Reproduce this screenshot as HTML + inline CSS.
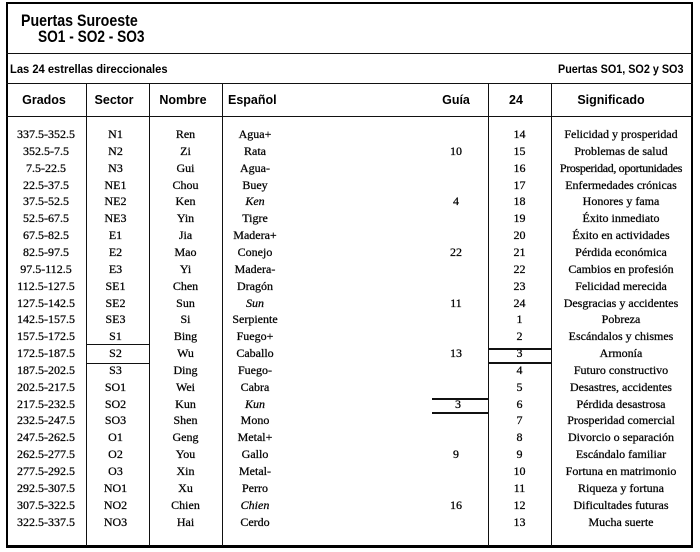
<!DOCTYPE html>
<html>
<head>
<meta charset="utf-8">
<style>
html,body{margin:0;padding:0;background:#fff;}
body{width:700px;height:552px;position:relative;overflow:hidden;}
.box{position:absolute;left:6px;top:2px;width:683px;height:541px;border:2px solid #000;border-bottom-width:3px;}
.h{position:absolute;background:#111;height:1.5px;}
.v{position:absolute;background:#111;width:1.5px;top:83px;height:463px;}
.t{position:absolute;font-family:"Liberation Sans",sans-serif;font-weight:bold;color:#000;white-space:nowrap;transform-origin:0 50%;}
.hd{position:absolute;font-family:"Liberation Sans",sans-serif;font-weight:bold;font-size:12.5px;line-height:16px;top:92px;color:#000;white-space:nowrap;text-align:center;}
.r{position:absolute;left:0;width:700px;height:17px;font-family:"Liberation Serif",serif;font-size:12px;line-height:17px;color:#000;-webkit-text-stroke:0.25px #000;}
.r span{position:absolute;top:0;text-align:center;white-space:nowrap;}
.c1{left:7px;width:78px;}
.c2{left:84px;width:63px;}
.c3{left:149px;width:73px;}
.c4{left:222px;width:66px;}
.c5{left:432px;width:48px;}
.c6{left:488px;width:63px;}
.c7{left:551px;width:140px;}
i{font-style:italic;}
</style>
</head>
<body>
<div class="box"></div>

<div class="t" style="left:21px;top:12px;font-size:16.5px;line-height:18px;transform:scaleX(0.86);">Puertas Suroeste</div>
<div class="t" style="left:38px;top:28px;font-size:16.5px;line-height:18px;transform:scaleX(0.83);">SO1 - SO2 - SO3</div>

<div class="h" style="left:6px;width:687px;top:52.5px;"></div>

<div class="t" style="left:10px;top:61px;font-size:12px;line-height:16px;transform:scaleX(0.93);">Las 24 estrellas direccionales</div>
<div class="t" style="left:558px;top:61px;font-size:12px;line-height:16px;transform:scaleX(0.9);">Puertas SO1, SO2 y SO3</div>

<div class="h" style="left:6px;width:687px;top:82.5px;"></div>

<div class="hd" style="left:14px;width:60px;">Grados</div>
<div class="hd" style="left:84px;width:60px;">Sector</div>
<div class="hd" style="left:153px;width:60px;">Nombre</div>
<div class="hd" style="left:228px;text-align:left;">Español</div>
<div class="hd" style="left:436px;width:40px;">Guía</div>
<div class="hd" style="left:496px;width:40px;">24</div>
<div class="hd" style="left:566px;width:90px;">Significado</div>

<div class="h" style="left:6px;width:687px;top:115.5px;"></div>

<div class="v" style="left:85.5px;"></div>
<div class="v" style="left:148.5px;"></div>
<div class="v" style="left:221.5px;"></div>
<div class="v" style="left:487.5px;"></div>
<div class="v" style="left:550.5px;"></div>

<!-- boxes -->
<div class="h" style="left:86px;width:64px;top:343.5px;"></div>
<div class="h" style="left:86px;width:64px;top:362.5px;"></div>
<div class="h" style="left:488px;width:64px;top:348px;"></div>
<div class="h" style="left:488px;width:64px;top:362px;"></div>
<div class="h" style="left:432px;width:57px;top:398px;"></div>
<div class="h" style="left:432px;width:57px;top:412px;"></div>

<div class="r" style="top:126px"><span class="c1">337.5-352.5</span><span class="c2">N1</span><span class="c3">Ren</span><span class="c4">Agua+</span><span class="c5"></span><span class="c6">14</span><span class="c7">Felicidad y prosperidad</span></div>
<div class="r" style="top:142.85px"><span class="c1">352.5-7.5</span><span class="c2">N2</span><span class="c3">Zi</span><span class="c4">Rata</span><span class="c5">10</span><span class="c6">15</span><span class="c7">Problemas de salud</span></div>
<div class="r" style="top:159.7px"><span class="c1">7.5-22.5</span><span class="c2">N3</span><span class="c3">Gui</span><span class="c4">Agua-</span><span class="c5"></span><span class="c6">16</span><span class="c7" style="letter-spacing:-0.35px">Prosperidad, oportunidades</span></div>
<div class="r" style="top:176.55px"><span class="c1">22.5-37.5</span><span class="c2">NE1</span><span class="c3">Chou</span><span class="c4">Buey</span><span class="c5"></span><span class="c6">17</span><span class="c7">Enfermedades crónicas</span></div>
<div class="r" style="top:193.4px"><span class="c1">37.5-52.5</span><span class="c2">NE2</span><span class="c3">Ken</span><span class="c4"><i>Ken</i></span><span class="c5">4</span><span class="c6">18</span><span class="c7">Honores y fama</span></div>
<div class="r" style="top:210.25px"><span class="c1">52.5-67.5</span><span class="c2">NE3</span><span class="c3">Yin</span><span class="c4">Tigre</span><span class="c5"></span><span class="c6">19</span><span class="c7">Éxito inmediato</span></div>
<div class="r" style="top:227.1px"><span class="c1">67.5-82.5</span><span class="c2">E1</span><span class="c3">Jia</span><span class="c4">Madera+</span><span class="c5"></span><span class="c6">20</span><span class="c7">Éxito en actividades</span></div>
<div class="r" style="top:243.95px"><span class="c1">82.5-97.5</span><span class="c2">E2</span><span class="c3">Mao</span><span class="c4">Conejo</span><span class="c5">22</span><span class="c6">21</span><span class="c7">Pérdida económica</span></div>
<div class="r" style="top:260.8px"><span class="c1">97.5-112.5</span><span class="c2">E3</span><span class="c3">Yi</span><span class="c4">Madera-</span><span class="c5"></span><span class="c6">22</span><span class="c7">Cambios en profesión</span></div>
<div class="r" style="top:277.65px"><span class="c1">112.5-127.5</span><span class="c2">SE1</span><span class="c3">Chen</span><span class="c4">Dragón</span><span class="c5"></span><span class="c6">23</span><span class="c7">Felicidad merecida</span></div>
<div class="r" style="top:294.5px"><span class="c1">127.5-142.5</span><span class="c2">SE2</span><span class="c3">Sun</span><span class="c4"><i>Sun</i></span><span class="c5">11</span><span class="c6">24</span><span class="c7">Desgracias y accidentes</span></div>
<div class="r" style="top:311.35px"><span class="c1">142.5-157.5</span><span class="c2">SE3</span><span class="c3">Si</span><span class="c4">Serpiente</span><span class="c5"></span><span class="c6">1</span><span class="c7">Pobreza</span></div>
<div class="r" style="top:328.2px"><span class="c1">157.5-172.5</span><span class="c2">S1</span><span class="c3">Bing</span><span class="c4">Fuego+</span><span class="c5"></span><span class="c6">2</span><span class="c7">Escándalos y chismes</span></div>
<div class="r" style="top:345.05px"><span class="c1">172.5-187.5</span><span class="c2">S2</span><span class="c3">Wu</span><span class="c4">Caballo</span><span class="c5">13</span><span class="c6">3</span><span class="c7">Armonía</span></div>
<div class="r" style="top:361.9px"><span class="c1">187.5-202.5</span><span class="c2">S3</span><span class="c3">Ding</span><span class="c4">Fuego-</span><span class="c5"></span><span class="c6">4</span><span class="c7">Futuro constructivo</span></div>
<div class="r" style="top:378.75px"><span class="c1">202.5-217.5</span><span class="c2">SO1</span><span class="c3">Wei</span><span class="c4">Cabra</span><span class="c5"></span><span class="c6">5</span><span class="c7">Desastres, accidentes</span></div>
<div class="r" style="top:395.6px"><span class="c1">217.5-232.5</span><span class="c2">SO2</span><span class="c3">Kun</span><span class="c4"><i>Kun</i></span><span class="c5" style="left:434px;">3</span><span class="c6">6</span><span class="c7">Pérdida desastrosa</span></div>
<div class="r" style="top:412.45px"><span class="c1">232.5-247.5</span><span class="c2">SO3</span><span class="c3">Shen</span><span class="c4">Mono</span><span class="c5"></span><span class="c6">7</span><span class="c7">Prosperidad comercial</span></div>
<div class="r" style="top:429.3px"><span class="c1">247.5-262.5</span><span class="c2">O1</span><span class="c3">Geng</span><span class="c4">Metal+</span><span class="c5"></span><span class="c6">8</span><span class="c7">Divorcio o separación</span></div>
<div class="r" style="top:446.15px"><span class="c1">262.5-277.5</span><span class="c2">O2</span><span class="c3">You</span><span class="c4">Gallo</span><span class="c5">9</span><span class="c6">9</span><span class="c7">Escándalo familiar</span></div>
<div class="r" style="top:463px"><span class="c1">277.5-292.5</span><span class="c2">O3</span><span class="c3">Xin</span><span class="c4">Metal-</span><span class="c5"></span><span class="c6">10</span><span class="c7">Fortuna en matrimonio</span></div>
<div class="r" style="top:479.85px"><span class="c1">292.5-307.5</span><span class="c2">NO1</span><span class="c3">Xu</span><span class="c4">Perro</span><span class="c5"></span><span class="c6">11</span><span class="c7">Riqueza y fortuna</span></div>
<div class="r" style="top:496.7px"><span class="c1">307.5-322.5</span><span class="c2">NO2</span><span class="c3">Chien</span><span class="c4"><i>Chien</i></span><span class="c5">16</span><span class="c6">12</span><span class="c7">Dificultades futuras</span></div>
<div class="r" style="top:513.55px"><span class="c1">322.5-337.5</span><span class="c2">NO3</span><span class="c3">Hai</span><span class="c4">Cerdo</span><span class="c5"></span><span class="c6">13</span><span class="c7">Mucha suerte</span></div>
</body>
</html>
